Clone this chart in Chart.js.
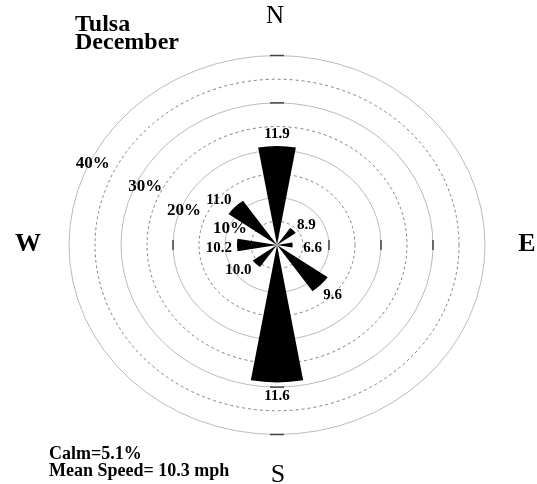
<!DOCTYPE html>
<html>
<head>
<meta charset="utf-8">
<script src="https://cdn.jsdelivr.net/npm/chart.js@4.4.0/dist/chart.umd.min.js"></script>
<style>
  body { margin: 0; background: #fff; }
  canvas { display: block; }
</style>
</head>
<body>
<canvas id="rose" width="537" height="484"></canvas>
<script>
// Wind rose values
const directions = ['N', 'NE', 'E', 'SE', 'S', 'SW', 'W', 'NW'];
const frequency = [20.9, 4.4, 3.0, 11.9, 29.0, 5.7, 7.7, 11.4];   // % of hours
const meanSpeed = [11.9, 8.9, 6.6, 9.6, 11.6, 10.0, 10.2, 11.0];  // mph per direction
const ringTicks = [10, 20, 30, 40];
const calm = 5.1;
const meanSpeedAll = 10.3;
const station = 'Tulsa';
const month = 'December';

// where the labels sit: [radius in %, bearing in degrees]
const speedLabelPos = [[23.5, 0], [7.1, 53], [6.9, 95], [15.1, 135], [31.8, 180], [9.2, 234], [11.2, 267], [14.6, 310]];
const ringLabelPos = [[9.7, 291], [19.3, 292], [28.2, 296], [39.4, 296]];
const axisMarks = {0: [30, 40], 90: [10, 20, 30], 180: [30, 40], 270: [20]};

const squeeze = 0.911; // the rose is drawn a bit flatter than a circle
const serif = '"Liberation Serif", "Times New Roman", serif';

// every direction is a 20 deg wedge, followed by a 25 deg gap
const slots = [], slotLabels = [];
directions.forEach((d, i) => {
  slots.push(frequency[i], 0);
  slotLabels.push(d, '');
});

const rosePlugin = {
  id: 'rose',
  beforeDraw(chart) {
    const ctx = chart.ctx, r = chart.scales.r;
    ctx.save();
    ctx.translate(0, r.yCenter);
    ctx.scale(1, squeeze);
    ctx.translate(0, -r.yCenter);
  },
  afterDraw(chart) {
    const ctx = chart.ctx, r = chart.scales.r;
    ctx.restore();

    const at = (v, deg) => {
      const d = r.getDistanceFromCenterForValue(v), a = deg * Math.PI / 180;
      return [r.xCenter + d * Math.sin(a), r.yCenter - d * Math.cos(a) * squeeze];
    };
    const text = (s, x, y, font, align = 'center', base = 'middle') => {
      ctx.font = font;
      ctx.textAlign = align;
      ctx.textBaseline = base;
      ctx.fillStyle = '#000';
      ctx.fillText(s, x, y);
    };

    // short marks where the rings cross the axes
    ctx.save();
    ctx.strokeStyle = '#444';
    ctx.lineWidth = 1.5;
    Object.keys(axisMarks).forEach(k => {
      const deg = +k;
      axisMarks[k].forEach(v => {
        const [x, y] = at(v, deg);
        ctx.beginPath();
        if (deg % 180 === 0) { ctx.moveTo(x - 7, y); ctx.lineTo(x + 7, y); }
        else { ctx.moveTo(x, y - 5); ctx.lineTo(x, y + 5); }
        ctx.stroke();
      });
    });
    ctx.restore();

    // mean speed next to each wedge
    meanSpeed.forEach((s, i) => {
      const [x, y] = at(speedLabelPos[i][0], speedLabelPos[i][1]);
      text(s.toFixed(1), x, y, 'bold 15px ' + serif);
    });

    // ring labels
    ringTicks.forEach((v, i) => {
      const [x, y] = at(ringLabelPos[i][0], ringLabelPos[i][1]);
      text(v + '%', x, y, 'bold 17px ' + serif);
    });

    // compass letters
    text('N', 275, 23, '25px ' + serif, 'center', 'alphabetic');
    text('S', 278, 482, '26px ' + serif, 'center', 'alphabetic');
    text('W', 28, 251, 'bold 26px ' + serif, 'center', 'alphabetic');
    text('E', 527, 251, 'bold 26px ' + serif, 'center', 'alphabetic');

    // titles and notes
    text(station, 75, 31, 'bold 24px ' + serif, 'left', 'alphabetic');
    text(month, 75, 49, 'bold 24px ' + serif, 'left', 'alphabetic');
    text('Calm=' + calm + '%', 49, 459, 'bold 18px ' + serif, 'left', 'alphabetic');
    text('Mean Speed= ' + meanSpeedAll + ' mph', 49, 476, 'bold 18px ' + serif, 'left', 'alphabetic');
  }
};

new Chart(document.getElementById('rose').getContext('2d'), {
  type: 'polarArea',
  data: {
    labels: slotLabels,
    datasets: [{
      data: slots,
      backgroundColor: '#000',
      borderWidth: 0,
      angle: c => c.dataIndex % 2 ? 25 : 20
    }]
  },
  options: {
    responsive: false,
    animation: false,
    layout: { padding: { left: 69, right: 52, top: 37, bottom: 31 } },
    plugins: { legend: { display: false }, tooltip: { enabled: false } },
    scales: {
      r: {
        min: 0,
        max: 40,
        startAngle: -10,
        ticks: { display: false, stepSize: 5 },
        grid: {
          circular: true,
          lineWidth: 1,
          color: c => (c.tick && c.tick.value % 10) ? '#7a7a7a' : '#b8b8b8'
        },
        border: { dash: c => (c.tick && c.tick.value % 10) ? [3, 3] : [] },
        angleLines: { display: false },
        pointLabels: { display: false }
      }
    }
  },
  plugins: [rosePlugin]
});
</script>
</body>
</html>
